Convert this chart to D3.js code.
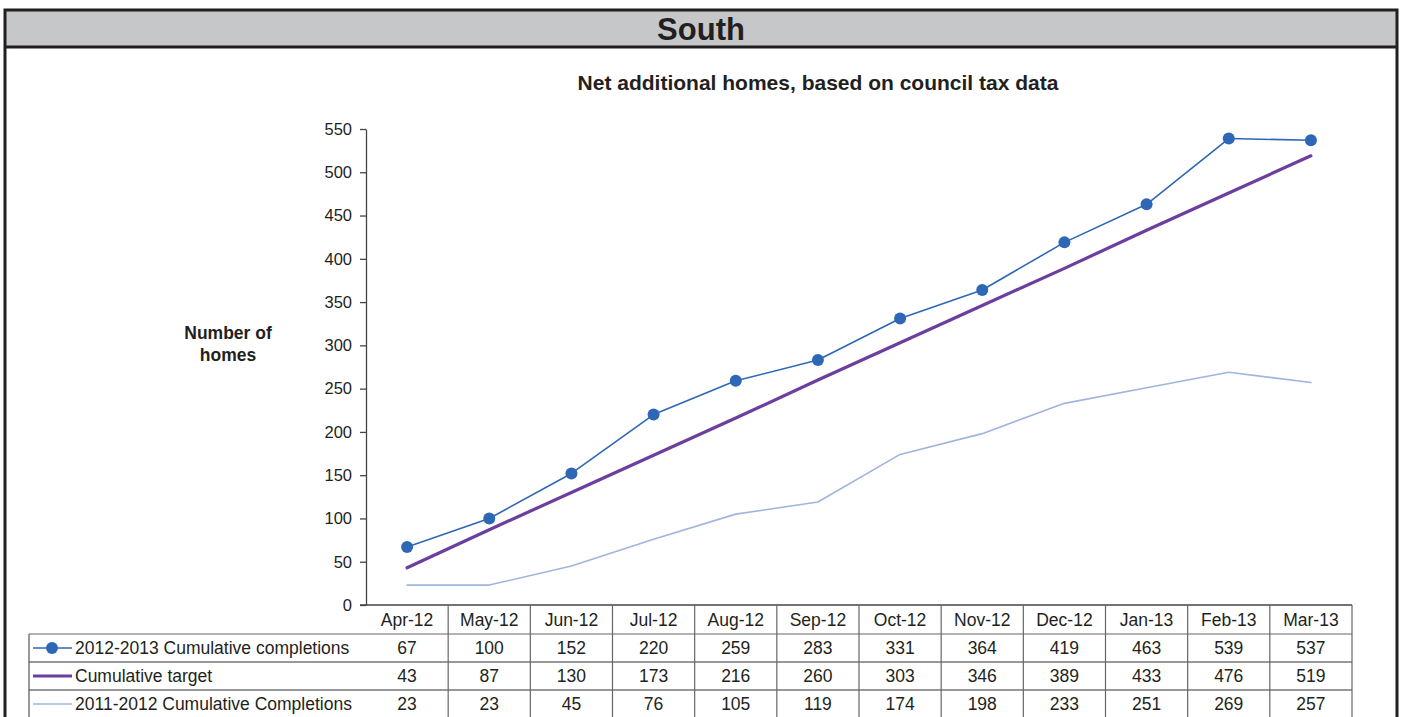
<!DOCTYPE html>
<html>
<head>
<meta charset="utf-8">
<script src="https://cdn.jsdelivr.net/npm/d3@7"></script>
<style>
    body { margin: 0; background: #fff; }
    svg { display: block; font-family: "Liberation Sans", Arial, sans-serif; }
</style>
</head>
<body>
<svg id="chart" width="1401" height="717"></svg>
<script>
// Chart data
const months = ["Apr-12", "May-12", "Jun-12", "Jul-12", "Aug-12", "Sep-12",
                "Oct-12", "Nov-12", "Dec-12", "Jan-13", "Feb-13", "Mar-13"];
const completions2012 = [67, 100, 152, 220, 259, 283, 331, 364, 419, 463, 539, 537];
const cumulativeTarget = [43, 87, 130, 173, 216, 260, 303, 346, 389, 433, 476, 519];
const completions2011 = [23, 23, 45, 76, 105, 119, 174, 198, 233, 251, 269, 257];
const yTicks = [0, 50, 100, 150, 200, 250, 300, 350, 400, 450, 500, 550];

const series = [
    {name: "2012-2013 Cumulative completions", values: completions2012, color: "#2e67b5", width: 1.6, marker: true},
    {name: "Cumulative target",                values: cumulativeTarget, color: "#6c3f9e", width: 3.2, marker: false},
    {name: "2011-2012 Cumulative Completions", values: completions2011, color: "#9fb5dd", width: 1.6, marker: false}
];

const tableFont = 17.5;
const svg = d3.select("#chart");

// Frame with heading band
svg.append("rect")
    .attr("x", 5).attr("y", 10)
    .attr("width", 1392).attr("height", 37)
    .attr("fill", "#c6c7c9");

svg.append("path")
    .attr("d", "M5,740 V10 H1397 V740 M5,47 H1397")
    .attr("fill", "none")
    .attr("stroke", "#231f20")
    .attr("stroke-width", 3);

svg.append("text")
    .attr("x", 701).attr("y", 40)
    .attr("text-anchor", "middle")
    .attr("font-size", 31)
    .attr("font-weight", "bold")
    .attr("fill", "#231f20")
    .text("South");

svg.append("text")
    .attr("x", 818).attr("y", 90)
    .attr("text-anchor", "middle")
    .attr("font-size", 21)
    .attr("font-weight", "bold")
    .attr("fill", "#231f20")
    .text("Net additional homes, based on council tax data");

// Axis title
const yTitle = svg.append("text")
    .attr("text-anchor", "middle")
    .attr("font-size", 17.5)
    .attr("font-weight", "bold")
    .attr("fill", "#231f20");
yTitle.append("tspan").attr("x", 228).attr("y", 339).text("Number of");
yTitle.append("tspan").attr("x", 228).attr("y", 361).text("homes");

// Scales
const plotLeft = 366, plotRight = 1352;
const x = d3.scaleBand().domain(months).range([plotLeft, plotRight]);
const y = d3.scaleLinear().domain([0, 550]).range([605, 129]);
const cx = m => x(m) + x.bandwidth() / 2;

// Y axis
const yAxis = svg.append("g")
    .attr("transform", `translate(${plotLeft},0)`)
    .call(d3.axisLeft(y).tickValues(yTicks).tickSize(6).tickSizeOuter(0).tickPadding(8));
yAxis.select(".domain").attr("stroke", "#444").attr("stroke-width", 1.3);
yAxis.selectAll(".tick line").attr("stroke", "#444").attr("stroke-width", 1.3);
yAxis.selectAll(".tick text")
    .attr("font-size", 16.5)
    .attr("font-family", "Liberation Sans, Arial, sans-serif")
    .attr("fill", "#231f20");

// Lines, drawn back to front
const line = d3.line()
    .x((d, i) => cx(months[i]))
    .y(d => y(d));

series.slice().reverse().forEach(s => {
    svg.append("path")
        .datum(s.values)
        .attr("d", line)
        .attr("fill", "none")
        .attr("stroke", s.color)
        .attr("stroke-width", s.width)
        .attr("stroke-linecap", "round")
        .attr("stroke-linejoin", "round");

    if (s.marker) {
        svg.append("g")
            .selectAll("circle")
            .data(s.values)
            .join("circle")
            .attr("cx", (d, i) => cx(months[i]))
            .attr("cy", d => y(d))
            .attr("r", 6)
            .attr("fill", s.color);
    }
});

// Data table
const tableLeft = 29;
const headerTop = 605;
const rowHeight = 28;
const rowTops = [634, 662, 690];
const grid = svg.append("g")
    .attr("fill", "none");

// x axis line / header top
grid.append("line")
    .attr("x1", 360).attr("x2", plotRight)
    .attr("y1", headerTop).attr("y2", headerTop)
    .attr("stroke", "#444").attr("stroke-width", 1.3);

// horizontal row lines
rowTops.forEach((t, i) => {
    grid.append("line")
        .attr("x1", tableLeft).attr("x2", plotRight)
        .attr("y1", t).attr("y2", t)
        .attr("stroke", i === 0 ? "#666" : "#333")
        .attr("stroke-width", 1.2);
});

// vertical lines
grid.append("line")
    .attr("x1", tableLeft).attr("x2", tableLeft)
    .attr("y1", rowTops[0]).attr("y2", 717)
    .attr("stroke", "#555").attr("stroke-width", 1.2);

months.forEach(m => {
    grid.append("line")
        .attr("x1", x(m) + x.bandwidth()).attr("x2", x(m) + x.bandwidth())
        .attr("y1", headerTop).attr("y2", 717)
        .attr("stroke", "#666").attr("stroke-width", 1.2);
});

// header labels
svg.append("g")
    .selectAll("text")
    .data(months)
    .join("text")
    .attr("x", d => cx(d))
    .attr("y", headerTop + 21)
    .attr("text-anchor", "middle")
    .attr("font-size", tableFont)
    .attr("fill", "#231f20")
    .text(d => d);

// rows
series.forEach((s, r) => {
    const top = rowTops[r];
    const g = svg.append("g");

    g.append("line")
        .attr("x1", 33).attr("x2", 72)
        .attr("y1", top + rowHeight / 2).attr("y2", top + rowHeight / 2)
        .attr("stroke", s.color)
        .attr("stroke-width", s.width);

    if (s.marker) {
        g.append("circle")
            .attr("cx", 52).attr("cy", top + rowHeight / 2)
            .attr("r", 6)
            .attr("fill", s.color);
    }

    g.append("text")
        .attr("x", 75).attr("y", top + 20)
        .attr("font-size", tableFont)
        .attr("fill", "#231f20")
        .text(s.name);

    g.selectAll("text.val")
        .data(s.values)
        .join("text")
        .attr("class", "val")
        .attr("x", (d, i) => cx(months[i]))
        .attr("y", top + 20)
        .attr("text-anchor", "middle")
        .attr("font-size", tableFont)
        .attr("fill", "#231f20")
        .text(d => d);
});
</script>
</body>
</html>
